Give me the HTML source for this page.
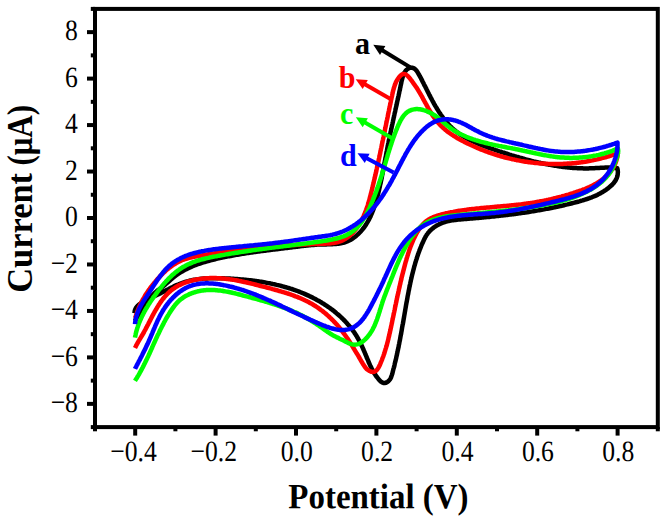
<!DOCTYPE html>
<html><head><meta charset="utf-8"><title>CV</title>
<style>html,body{margin:0;padding:0;background:#fff;}body{width:668px;height:523px;overflow:hidden;}svg{display:block;}text{font-family:"Liberation Serif",serif;}</style></head><body>
<svg width="668" height="523" viewBox="0 0 668 523">
<rect width="668" height="523" fill="#fff"/>
<g fill="none" stroke-width="4.5" stroke-linecap="butt" stroke-linejoin="round">
<path stroke="#000000" d="M135.0 321.0L135.5 319.9L136.1 318.8L136.7 317.8L137.3 316.8L138.0 315.8L138.6 314.8L139.3 313.8L140.0 312.8L140.7 311.9L141.4 310.9L142.1 309.9L142.9 309.0L143.6 308.0L144.2 307.0L144.9 306.0L145.6 305.0L146.2 304.0L146.9 302.9L147.5 301.9L148.2 300.9L148.9 299.9L149.6 298.9L150.3 297.9L151.0 297.0L151.7 296.1L152.5 295.2L153.3 294.3L154.1 293.5L155.0 292.7L155.9 291.9L156.8 291.1L157.7 290.4L158.7 289.7L159.7 288.9L160.6 288.2L161.6 287.5L162.6 286.7L163.5 286.0L164.5 285.2L165.4 284.4L166.3 283.6L167.2 282.8L168.1 282.0L169.0 281.2L170.0 280.4L170.9 279.6L171.8 278.8L172.7 278.0L173.7 277.2L174.6 276.5L175.6 275.7L176.5 275.0L177.5 274.4L178.5 273.7L179.5 273.0L180.5 272.4L181.5 271.8L182.6 271.2L183.6 270.6L184.6 270.0L185.7 269.5L186.8 268.9L187.8 268.4L188.9 267.9L190.0 267.4L191.1 266.9L192.2 266.4L193.3 266.0L194.4 265.5L195.5 265.1L196.6 264.7L197.7 264.2L198.9 263.8L200.0 263.5L201.2 263.1L202.3 262.7L203.4 262.3L204.6 262.0L205.8 261.7L206.9 261.3L208.1 261.0L209.3 260.7L210.4 260.4L211.6 260.1L212.8 259.8L213.9 259.5L215.1 259.2L216.3 258.9L217.5 258.6L218.7 258.4L219.8 258.1L221.0 257.9L222.2 257.6L223.4 257.4L224.6 257.1L225.8 256.9L226.9 256.6L228.1 256.4L229.3 256.2L230.5 256.0L231.7 255.7L232.9 255.5L234.1 255.3L235.2 255.1L236.4 254.9L237.6 254.7L238.8 254.5L240.0 254.3L241.2 254.1L242.4 253.9L243.5 253.7L244.7 253.5L245.9 253.3L247.1 253.1L248.3 253.0L249.5 252.8L250.7 252.6L251.9 252.4L253.1 252.3L254.2 252.1L255.4 251.9L256.6 251.8L257.8 251.6L259.0 251.4L260.2 251.3L261.4 251.1L262.6 251.0L263.8 250.8L265.0 250.7L266.2 250.5L267.3 250.3L268.5 250.2L269.7 250.0L270.9 249.9L272.1 249.7L273.3 249.6L274.5 249.5L275.7 249.3L276.9 249.2L278.1 249.0L279.2 248.9L280.4 248.7L281.6 248.6L282.8 248.4L284.0 248.3L285.2 248.1L286.4 248.0L287.6 247.9L288.8 247.7L290.0 247.6L291.1 247.4L292.3 247.3L293.5 247.1L294.7 247.0L295.9 246.8L297.1 246.7L298.3 246.5L299.5 246.4L300.7 246.2L301.8 246.1L303.0 245.9L304.2 245.8L305.4 245.7L306.6 245.5L307.8 245.4L309.0 245.3L310.2 245.2L311.4 245.1L312.6 245.0L313.8 244.9L315.1 244.8L316.3 244.7L317.5 244.6L318.7 244.6L319.9 244.5L321.2 244.5L322.4 244.4L323.7 244.4L324.9 244.4L326.1 244.4L327.4 244.3L328.6 244.3L329.9 244.3L331.1 244.2L332.3 244.2L333.5 244.1L334.8 244.0L336.0 243.9L337.2 243.8L338.4 243.7L339.6 243.5L340.8 243.3L341.9 243.0L343.1 242.8L344.2 242.5L345.4 242.1L346.5 241.7L347.6 241.3L348.7 240.8L349.7 240.3L350.8 239.7L351.8 239.1L352.8 238.4L353.8 237.7L354.8 237.0L355.8 236.2L356.7 235.4L357.6 234.6L358.5 233.8L359.3 232.9L360.2 232.1L361.0 231.2L361.7 230.3L362.5 229.4L363.2 228.5L364.0 227.5L364.7 226.6L365.3 225.6L366.0 224.6L366.6 223.6L367.2 222.6L367.8 221.6L368.4 220.5L369.0 219.5L369.5 218.4L370.0 217.4L370.6 216.3L371.0 215.2L371.5 214.1L372.0 213.0L372.4 211.9L372.9 210.8L373.3 209.7L373.7 208.5L374.1 207.4L374.5 206.2L374.9 205.1L375.3 203.9L375.6 202.8L376.0 201.6L376.3 200.4L376.6 199.3L377.0 198.1L377.3 196.9L377.6 195.7L377.9 194.5L378.2 193.4L378.5 192.2L378.8 191.0L379.1 189.8L379.3 188.6L379.6 187.4L379.9 186.2L380.1 185.0L380.4 183.9L380.7 182.7L380.9 181.5L381.2 180.3L381.4 179.1L381.7 177.9L381.9 176.7L382.1 175.5L382.4 174.3L382.6 173.1L382.8 172.0L383.1 170.8L383.3 169.6L383.5 168.4L383.8 167.2L384.0 166.0L384.2 164.8L384.4 163.6L384.6 162.5L384.9 161.3L385.1 160.1L385.3 158.9L385.5 157.7L385.8 156.6L386.0 155.4L386.2 154.2L386.4 153.0L386.6 151.9L386.9 150.7L387.1 149.5L387.3 148.3L387.5 147.2L387.8 146.0L388.0 144.8L388.2 143.7L388.5 142.5L388.7 141.4L388.9 140.2L389.2 139.0L389.4 137.9L389.6 136.7L389.9 135.6L390.1 134.4L390.4 133.3L390.6 132.1L390.9 131.0L391.1 129.8L391.4 128.6L391.6 127.5L391.9 126.3L392.1 125.2L392.4 124.0L392.6 122.9L392.9 121.7L393.1 120.5L393.4 119.4L393.6 118.2L393.9 117.1L394.1 115.9L394.4 114.7L394.6 113.5L394.9 112.4L395.2 111.2L395.4 110.0L395.7 108.8L395.9 107.7L396.2 106.5L396.5 105.3L396.7 104.1L397.0 102.9L397.2 101.7L397.5 100.5L397.8 99.3L398.0 98.1L398.3 96.9L398.6 95.7L398.8 94.5L399.1 93.3L399.3 92.0L399.6 90.8L399.9 89.6L400.1 88.3L400.4 87.1L400.6 85.8L400.9 84.6L401.2 83.3L401.4 82.1L401.7 80.8L402.0 79.6L402.3 78.4L402.6 77.2L403.0 76.0L403.4 74.9L403.9 73.8L404.3 72.8L404.9 71.9L405.5 71.0L406.2 70.2L406.9 69.5L407.8 68.9L408.7 68.3L409.6 67.9L410.6 67.7L411.6 67.7L412.6 67.8L413.6 68.2L414.6 68.8L415.5 69.5L416.3 70.4L417.1 71.5L417.8 72.6L418.5 73.8L419.2 75.0L419.8 76.2L420.5 77.4L421.1 78.5L421.6 79.6L422.2 80.7L422.7 81.8L423.3 82.8L423.8 83.9L424.3 84.9L424.8 85.9L425.4 86.9L425.9 87.9L426.4 89.0L426.9 90.0L427.4 91.0L427.9 92.1L428.5 93.1L429.0 94.2L429.5 95.2L430.1 96.3L430.6 97.3L431.2 98.4L431.8 99.5L432.3 100.5L432.9 101.6L433.5 102.7L434.1 103.8L434.7 104.8L435.3 105.9L435.9 106.9L436.6 108.0L437.2 109.0L437.9 110.1L438.5 111.1L439.2 112.2L439.9 113.2L440.5 114.2L441.2 115.2L441.9 116.2L442.7 117.2L443.4 118.2L444.1 119.2L444.9 120.1L445.6 121.1L446.4 122.0L447.2 122.9L448.0 123.8L448.8 124.7L449.6 125.6L450.5 126.4L451.3 127.3L452.2 128.1L453.1 128.9L454.0 129.7L454.9 130.4L455.8 131.2L456.7 131.9L457.7 132.6L458.6 133.3L459.6 134.0L460.6 134.7L461.6 135.3L462.6 135.9L463.6 136.6L464.6 137.2L465.6 137.8L466.7 138.3L467.7 138.9L468.8 139.4L469.8 140.0L470.9 140.5L472.0 141.0L473.1 141.5L474.2 142.0L475.3 142.5L476.4 143.0L477.5 143.5L478.6 143.9L479.7 144.4L480.8 144.8L482.0 145.3L483.1 145.7L484.2 146.1L485.4 146.5L486.5 146.9L487.7 147.4L488.8 147.8L490.0 148.2L491.1 148.6L492.3 148.9L493.4 149.3L494.6 149.7L495.7 150.1L496.9 150.5L498.0 150.9L499.2 151.3L500.3 151.6L501.5 152.0L502.6 152.4L503.8 152.7L504.9 153.1L506.0 153.5L507.2 153.8L508.3 154.2L509.5 154.6L510.6 154.9L511.8 155.3L512.9 155.6L514.1 156.0L515.2 156.3L516.4 156.7L517.5 157.0L518.7 157.3L519.8 157.7L521.0 158.0L522.2 158.3L523.3 158.6L524.5 159.0L525.6 159.3L526.8 159.6L527.9 159.9L529.1 160.2L530.3 160.5L531.4 160.8L532.6 161.1L533.7 161.4L534.9 161.6L536.1 161.9L537.2 162.2L538.4 162.5L539.6 162.7L540.7 163.0L541.9 163.2L543.1 163.5L544.3 163.7L545.4 164.0L546.6 164.2L547.8 164.4L549.0 164.7L550.2 164.9L551.3 165.1L552.5 165.3L553.7 165.5L554.9 165.7L556.1 165.9L557.3 166.1L558.4 166.3L559.6 166.4L560.8 166.6L562.0 166.8L563.2 166.9L564.4 167.1L565.6 167.2L566.8 167.3L568.0 167.4L569.2 167.6L570.4 167.7L571.6 167.8L572.8 167.9L574.0 168.0L575.2 168.0L576.4 168.1L577.6 168.2L578.8 168.2L580.0 168.3L581.2 168.3L582.4 168.3L583.6 168.4L584.8 168.4L586.0 168.4L587.2 168.4L588.4 168.4L589.6 168.3L590.8 168.3L592.0 168.3L593.2 168.2L594.4 168.2L595.7 168.1L596.9 168.0L598.1 168.0L599.3 167.9L600.5 167.8L601.7 167.8L602.9 167.7L604.1 167.7L605.3 167.6L606.5 167.6L607.7 167.6L608.9 167.6L610.1 167.6L611.3 167.6L612.5 167.7L613.7 167.8L614.9 167.9L616.1 168.0L617.3 168.2L617.6 169.5L617.8 170.8L617.9 172.1L617.8 173.3L617.7 174.5L617.5 175.6L617.2 176.8L616.8 177.9L616.3 178.9L615.8 180.0L615.2 181.0L614.5 181.9L613.8 182.9L613.0 183.8L612.2 184.7L611.3 185.5L610.4 186.3L609.5 187.1L608.5 187.9L607.6 188.7L606.6 189.4L605.6 190.1L604.6 190.7L603.6 191.4L602.6 192.0L601.6 192.6L600.5 193.2L599.5 193.8L598.4 194.3L597.3 194.9L596.3 195.4L595.2 195.9L594.1 196.3L593.0 196.8L591.9 197.3L590.7 197.7L589.6 198.1L588.5 198.5L587.3 198.9L586.2 199.3L585.0 199.6L583.9 200.0L582.7 200.4L581.6 200.7L580.4 201.0L579.3 201.4L578.1 201.7L576.9 202.0L575.7 202.3L574.6 202.6L573.4 202.9L572.2 203.2L571.1 203.5L569.9 203.8L568.7 204.1L567.5 204.4L566.4 204.6L565.2 204.9L564.0 205.2L562.8 205.5L561.7 205.7L560.5 206.0L559.3 206.2L558.1 206.5L557.0 206.8L555.8 207.0L554.6 207.3L553.4 207.5L552.3 207.7L551.1 208.0L549.9 208.2L548.7 208.5L547.6 208.7L546.4 208.9L545.2 209.1L544.0 209.4L542.8 209.6L541.7 209.8L540.5 210.0L539.3 210.2L538.1 210.4L536.9 210.6L535.8 210.8L534.6 211.0L533.4 211.2L532.2 211.4L531.0 211.6L529.8 211.8L528.7 212.0L527.5 212.2L526.3 212.4L525.1 212.5L523.9 212.7L522.7 212.9L521.5 213.1L520.4 213.2L519.2 213.4L518.0 213.6L516.8 213.7L515.6 213.9L514.4 214.0L513.2 214.2L512.0 214.3L510.8 214.5L509.6 214.6L508.5 214.8L507.3 214.9L506.1 215.1L504.9 215.2L503.7 215.3L502.5 215.5L501.3 215.6L500.1 215.7L498.9 215.9L497.7 216.0L496.5 216.1L495.3 216.3L494.1 216.4L492.9 216.5L491.7 216.6L490.5 216.8L489.3 216.9L488.1 217.0L486.9 217.1L485.7 217.2L484.5 217.3L483.3 217.4L482.1 217.6L480.9 217.7L479.7 217.8L478.5 217.9L477.3 218.0L476.1 218.1L474.9 218.2L473.7 218.3L472.5 218.4L471.3 218.5L470.1 218.6L468.9 218.7L467.7 218.8L466.5 218.9L465.3 219.0L464.1 219.1L462.9 219.2L461.7 219.3L460.5 219.4L459.3 219.5L458.1 219.6L456.9 219.8L455.7 219.9L454.5 220.0L453.3 220.2L452.1 220.4L450.9 220.6L449.7 220.8L448.6 221.1L447.4 221.3L446.2 221.6L445.1 222.0L443.9 222.3L442.8 222.7L441.7 223.2L440.6 223.6L439.5 224.1L438.4 224.7L437.3 225.2L436.3 225.8L435.3 226.5L434.3 227.1L433.3 227.9L432.4 228.6L431.5 229.4L430.6 230.2L429.7 231.0L429.0 231.9L428.2 232.8L427.5 233.8L426.8 234.7L426.2 235.7L425.5 236.8L425.0 237.8L424.4 238.9L423.9 240.0L423.4 241.1L422.9 242.2L422.4 243.3L421.9 244.4L421.4 245.5L421.0 246.6L420.5 247.8L420.1 248.9L419.6 250.0L419.2 251.2L418.8 252.3L418.4 253.4L418.0 254.6L417.6 255.7L417.2 256.9L416.9 258.0L416.5 259.2L416.1 260.3L415.8 261.5L415.4 262.6L415.1 263.8L414.8 265.0L414.4 266.1L414.1 267.3L413.8 268.5L413.5 269.6L413.2 270.8L412.9 272.0L412.6 273.1L412.3 274.3L412.0 275.5L411.7 276.7L411.5 277.8L411.2 279.0L410.9 280.2L410.7 281.4L410.4 282.5L410.2 283.7L409.9 284.9L409.7 286.1L409.4 287.3L409.2 288.4L409.0 289.6L408.7 290.8L408.5 292.0L408.3 293.2L408.1 294.3L407.8 295.5L407.6 296.7L407.4 297.9L407.2 299.1L407.0 300.2L406.8 301.4L406.5 302.6L406.3 303.8L406.1 304.9L405.9 306.1L405.7 307.3L405.5 308.5L405.3 309.6L405.1 310.8L404.9 312.0L404.7 313.2L404.5 314.3L404.3 315.5L404.1 316.7L403.9 317.9L403.7 319.0L403.5 320.2L403.3 321.4L403.1 322.5L402.9 323.7L402.6 324.9L402.4 326.1L402.2 327.2L402.0 328.4L401.8 329.6L401.6 330.8L401.4 331.9L401.2 333.1L401.0 334.3L400.7 335.5L400.5 336.6L400.3 337.8L400.1 339.0L399.9 340.2L399.6 341.3L399.4 342.5L399.2 343.7L398.9 344.9L398.7 346.1L398.5 347.3L398.2 348.4L398.0 349.6L397.7 350.8L397.5 352.0L397.2 353.2L397.0 354.4L396.7 355.6L396.4 356.8L396.2 358.0L395.9 359.2L395.6 360.4L395.3 361.6L395.0 362.8L394.7 364.0L394.5 365.2L394.2 366.4L393.9 367.6L393.5 368.8L393.2 370.0L392.9 371.2L392.6 372.5L392.3 373.7L391.9 374.9L391.5 376.0L391.1 377.2L390.6 378.3L390.0 379.3L389.3 380.2L388.5 381.1L387.6 381.8L386.7 382.4L385.7 382.8L384.7 383.0L383.7 383.0L382.8 382.7L381.8 382.2L380.9 381.6L380.1 380.8L379.2 379.9L378.4 379.0L377.7 378.0L376.9 377.1L376.2 376.1L375.5 375.1L374.9 374.1L374.2 373.1L373.6 372.0L373.0 371.0L372.4 369.9L371.8 368.8L371.3 367.7L370.8 366.6L370.2 365.5L369.7 364.4L369.2 363.3L368.7 362.2L368.3 361.0L367.8 359.9L367.3 358.8L366.8 357.7L366.4 356.5L365.9 355.4L365.4 354.3L365.0 353.1L364.5 352.0L364.0 350.9L363.5 349.8L363.1 348.7L362.6 347.6L362.1 346.5L361.5 345.4L361.0 344.3L360.5 343.2L360.0 342.2L359.4 341.1L358.8 340.1L358.3 339.0L357.7 338.0L357.1 337.0L356.5 335.9L355.8 334.9L355.2 333.9L354.5 332.9L353.9 331.9L353.2 331.0L352.5 330.0L351.7 329.0L351.0 328.1L350.3 327.1L349.5 326.2L348.7 325.3L347.9 324.4L347.1 323.5L346.3 322.6L345.5 321.7L344.7 320.8L343.8 320.0L343.0 319.1L342.1 318.3L341.3 317.4L340.4 316.6L339.5 315.8L338.6 315.0L337.7 314.2L336.7 313.4L335.8 312.6L334.9 311.9L333.9 311.1L333.0 310.4L332.0 309.6L331.0 308.9L330.1 308.2L329.1 307.5L328.1 306.8L327.1 306.1L326.1 305.5L325.1 304.8L324.1 304.1L323.1 303.5L322.0 302.9L321.0 302.2L320.0 301.6L319.0 301.0L317.9 300.4L316.9 299.9L315.8 299.3L314.8 298.7L313.7 298.2L312.7 297.6L311.6 297.1L310.5 296.6L309.4 296.1L308.4 295.6L307.3 295.1L306.2 294.6L305.1 294.1L304.0 293.6L302.9 293.2L301.8 292.7L300.7 292.3L299.6 291.8L298.5 291.4L297.4 291.0L296.3 290.6L295.1 290.2L294.0 289.8L292.9 289.4L291.7 289.0L290.6 288.7L289.5 288.3L288.3 288.0L287.2 287.6L286.0 287.3L284.9 287.0L283.7 286.6L282.6 286.3L281.4 286.0L280.3 285.7L279.1 285.4L277.9 285.1L276.8 284.9L275.6 284.6L274.4 284.3L273.2 284.1L272.1 283.8L270.9 283.6L269.7 283.3L268.5 283.1L267.3 282.9L266.1 282.7L265.0 282.4L263.8 282.2L262.6 282.0L261.4 281.8L260.2 281.7L259.0 281.5L257.8 281.3L256.6 281.1L255.4 281.0L254.2 280.8L253.0 280.6L251.8 280.5L250.6 280.3L249.4 280.2L248.2 280.1L247.0 279.9L245.7 279.8L244.5 279.7L243.3 279.6L242.1 279.5L240.9 279.4L239.7 279.3L238.5 279.2L237.3 279.1L236.1 279.0L234.8 278.9L233.6 278.8L232.4 278.8L231.2 278.7L230.0 278.6L228.8 278.6L227.6 278.5L226.4 278.4L225.1 278.4L223.9 278.3L222.7 278.3L221.5 278.3L220.3 278.2L219.1 278.2L217.9 278.2L216.7 278.2L215.5 278.2L214.3 278.2L213.1 278.2L211.9 278.2L210.7 278.2L209.5 278.3L208.3 278.3L207.1 278.4L205.9 278.4L204.7 278.5L203.5 278.6L202.3 278.7L201.2 278.8L200.0 279.0L198.8 279.1L197.6 279.3L196.5 279.4L195.3 279.6L194.1 279.8L193.0 280.0L191.8 280.3L190.7 280.5L189.5 280.8L188.4 281.1L187.2 281.4L186.1 281.7L184.9 282.0L183.8 282.4L182.7 282.8L181.6 283.2L180.4 283.6L179.3 284.0L178.2 284.5L177.1 284.9L176.0 285.4L174.9 285.9L173.8 286.4L172.7 287.0L171.6 287.5L170.5 288.1L169.4 288.6L168.4 289.2L167.3 289.7L166.2 290.3L165.1 290.9L164.0 291.4L162.9 292.0L161.9 292.5L160.8 293.1L159.7 293.6L158.6 294.2L157.5 294.7L156.4 295.2L155.4 295.7L154.3 296.2L153.2 296.7L152.1 297.2L151.0 297.7L150.0 298.2L148.9 298.7L147.8 299.3L146.8 299.8L145.7 300.3L144.7 300.9L143.7 301.5L142.7 302.1L141.7 302.7L140.7 303.4L139.7 304.1L138.8 304.8L137.9 305.6L137.1 306.5L136.4 307.4L135.7 308.4L135.2 309.4L134.8 310.6L134.6 311.8L134.5 313.2"/>
<path stroke="#ff0000" d="M135.2 318.0L135.5 316.8L135.9 315.7L136.3 314.5L136.7 313.4L137.1 312.2L137.5 311.1L137.9 310.0L138.4 308.8L138.9 307.7L139.3 306.6L139.8 305.5L140.3 304.5L140.9 303.4L141.4 302.3L141.9 301.2L142.5 300.2L143.1 299.1L143.7 298.1L144.3 297.1L144.9 296.0L145.5 295.0L146.1 294.0L146.8 293.0L147.5 292.0L148.1 291.0L148.8 290.0L149.5 289.1L150.2 288.1L150.9 287.1L151.7 286.2L152.4 285.2L153.1 284.3L153.9 283.3L154.7 282.4L155.5 281.5L156.2 280.6L157.0 279.6L157.9 278.7L158.7 277.8L159.5 276.9L160.3 276.0L161.2 275.2L162.0 274.3L162.9 273.4L163.8 272.6L164.7 271.8L165.6 270.9L166.5 270.1L167.4 269.3L168.3 268.6L169.3 267.8L170.2 267.1L171.2 266.4L172.2 265.7L173.2 265.0L174.2 264.3L175.2 263.7L176.2 263.1L177.2 262.5L178.3 261.9L179.4 261.4L180.4 260.9L181.5 260.4L182.6 260.0L183.7 259.6L184.9 259.2L186.0 258.8L187.1 258.5L188.3 258.1L189.5 257.8L190.6 257.6L191.8 257.3L193.0 257.0L194.2 256.8L195.4 256.6L196.6 256.3L197.8 256.1L198.9 255.9L200.1 255.7L201.3 255.5L202.5 255.3L203.7 255.0L204.9 254.8L206.1 254.6L207.3 254.4L208.5 254.2L209.7 254.0L210.9 253.8L212.1 253.6L213.3 253.4L214.5 253.3L215.7 253.1L216.8 252.9L218.0 252.7L219.2 252.5L220.4 252.3L221.6 252.2L222.8 252.0L224.0 251.8L225.2 251.7L226.4 251.5L227.6 251.3L228.8 251.2L230.0 251.0L231.2 250.8L232.4 250.7L233.6 250.5L234.8 250.4L236.0 250.2L237.1 250.1L238.3 249.9L239.5 249.8L240.7 249.6L241.9 249.5L243.1 249.4L244.3 249.2L245.5 249.1L246.7 249.0L247.9 248.8L249.1 248.7L250.3 248.6L251.5 248.4L252.7 248.3L253.9 248.2L255.1 248.1L256.3 247.9L257.4 247.8L258.6 247.7L259.8 247.6L261.0 247.5L262.2 247.4L263.4 247.3L264.6 247.1L265.8 247.0L267.0 246.9L268.2 246.8L269.4 246.7L270.6 246.6L271.8 246.5L273.0 246.4L274.2 246.3L275.4 246.2L276.6 246.1L277.8 246.1L278.9 246.0L280.1 245.9L281.3 245.8L282.5 245.7L283.7 245.6L284.9 245.5L286.1 245.5L287.3 245.4L288.5 245.3L289.7 245.2L290.9 245.1L292.1 245.1L293.3 245.0L294.5 244.9L295.7 244.9L296.9 244.8L298.1 244.7L299.3 244.7L300.5 244.6L301.7 244.5L302.9 244.5L304.2 244.4L305.4 244.4L306.6 244.3L307.8 244.3L309.0 244.2L310.2 244.2L311.4 244.1L312.6 244.1L313.9 244.0L315.1 244.0L316.3 244.0L317.5 243.9L318.7 243.9L320.0 243.8L321.2 243.8L322.4 243.8L323.6 243.7L324.9 243.7L326.1 243.6L327.3 243.6L328.5 243.5L329.7 243.4L330.9 243.3L332.1 243.1L333.3 243.0L334.5 242.8L335.7 242.6L336.8 242.3L338.0 242.0L339.1 241.7L340.2 241.3L341.3 240.9L342.4 240.4L343.5 239.9L344.5 239.3L345.6 238.7L346.6 238.0L347.6 237.3L348.5 236.6L349.5 235.8L350.4 235.0L351.3 234.2L352.2 233.3L353.1 232.4L353.9 231.5L354.7 230.6L355.5 229.7L356.3 228.7L357.0 227.7L357.7 226.8L358.4 225.8L359.0 224.8L359.7 223.7L360.3 222.7L360.9 221.7L361.4 220.6L362.0 219.6L362.5 218.5L363.0 217.4L363.5 216.4L364.0 215.3L364.5 214.2L364.9 213.1L365.4 211.9L365.8 210.8L366.2 209.7L366.6 208.5L367.0 207.4L367.4 206.3L367.8 205.1L368.1 204.0L368.5 202.8L368.8 201.6L369.2 200.5L369.5 199.3L369.8 198.1L370.1 196.9L370.4 195.8L370.7 194.6L371.0 193.4L371.3 192.2L371.6 191.0L371.9 189.9L372.2 188.7L372.5 187.5L372.7 186.3L373.0 185.2L373.3 184.0L373.6 182.8L373.8 181.6L374.1 180.5L374.4 179.3L374.7 178.1L374.9 176.9L375.2 175.8L375.5 174.6L375.7 173.4L376.0 172.3L376.3 171.1L376.5 169.9L376.8 168.7L377.0 167.6L377.3 166.4L377.5 165.2L377.8 164.1L378.1 162.9L378.3 161.7L378.6 160.6L378.8 159.4L379.1 158.2L379.3 157.1L379.6 155.9L379.8 154.7L380.1 153.6L380.3 152.4L380.5 151.2L380.8 150.1L381.0 148.9L381.3 147.7L381.5 146.6L381.8 145.4L382.0 144.2L382.2 143.1L382.5 141.9L382.7 140.7L383.0 139.5L383.2 138.4L383.5 137.2L383.7 136.0L383.9 134.9L384.2 133.7L384.4 132.5L384.7 131.3L384.9 130.2L385.1 129.0L385.4 127.8L385.6 126.6L385.9 125.5L386.1 124.3L386.3 123.1L386.6 121.9L386.8 120.7L387.1 119.5L387.3 118.4L387.6 117.2L387.8 116.0L388.0 114.8L388.3 113.6L388.5 112.4L388.8 111.2L389.0 110.1L389.3 108.9L389.5 107.7L389.8 106.5L390.0 105.3L390.3 104.1L390.5 102.9L390.8 101.7L391.0 100.5L391.3 99.3L391.5 98.1L391.8 96.9L392.1 95.7L392.3 94.5L392.6 93.3L392.8 92.1L393.1 90.9L393.4 89.7L393.8 88.5L394.1 87.3L394.5 86.2L394.8 85.0L395.3 83.9L395.7 82.8L396.2 81.7L396.8 80.7L397.4 79.7L398.0 78.7L398.7 77.7L399.4 76.8L400.2 75.9L401.1 75.1L401.9 74.5L402.8 74.1L403.7 73.9L404.6 74.1L405.6 74.4L406.5 75.0L407.4 75.7L408.2 76.5L409.1 77.5L410.0 78.5L410.8 79.6L411.6 80.6L412.4 81.7L413.1 82.7L413.8 83.8L414.5 84.7L415.2 85.7L415.9 86.7L416.5 87.7L417.2 88.6L417.8 89.6L418.4 90.6L419.0 91.6L419.6 92.6L420.2 93.6L420.8 94.6L421.4 95.7L422.0 96.7L422.6 97.8L423.1 98.8L423.7 99.9L424.3 101.0L424.9 102.1L425.5 103.2L426.1 104.2L426.7 105.3L427.3 106.4L427.9 107.5L428.5 108.6L429.1 109.6L429.7 110.7L430.4 111.8L431.0 112.8L431.7 113.9L432.3 114.9L433.0 115.9L433.7 116.9L434.4 117.9L435.1 118.9L435.8 119.9L436.6 120.9L437.3 121.8L438.1 122.7L438.9 123.6L439.7 124.5L440.5 125.3L441.4 126.2L442.2 127.0L443.1 127.8L444.0 128.6L444.9 129.4L445.8 130.1L446.7 130.9L447.6 131.6L448.6 132.3L449.5 133.0L450.5 133.7L451.5 134.4L452.5 135.0L453.5 135.7L454.5 136.3L455.5 136.9L456.5 137.6L457.5 138.2L458.6 138.8L459.6 139.4L460.7 139.9L461.7 140.5L462.8 141.1L463.8 141.6L464.9 142.2L466.0 142.7L467.0 143.2L468.1 143.8L469.2 144.3L470.3 144.8L471.4 145.3L472.5 145.8L473.6 146.3L474.7 146.8L475.8 147.3L476.9 147.8L478.0 148.2L479.1 148.7L480.2 149.1L481.3 149.6L482.4 150.0L483.6 150.5L484.7 150.9L485.8 151.3L486.9 151.7L488.1 152.1L489.2 152.6L490.3 152.9L491.5 153.3L492.6 153.7L493.8 154.1L494.9 154.5L496.1 154.8L497.2 155.2L498.4 155.5L499.5 155.9L500.7 156.2L501.8 156.5L503.0 156.9L504.2 157.2L505.3 157.5L506.5 157.8L507.7 158.1L508.9 158.4L510.0 158.6L511.2 158.9L512.4 159.2L513.6 159.4L514.7 159.7L515.9 159.9L517.1 160.2L518.3 160.4L519.5 160.6L520.7 160.9L521.8 161.1L523.0 161.3L524.2 161.5L525.4 161.7L526.6 161.8L527.8 162.0L529.0 162.2L530.2 162.3L531.4 162.5L532.6 162.6L533.8 162.8L535.0 162.9L536.2 163.0L537.4 163.1L538.6 163.3L539.8 163.4L541.0 163.4L542.2 163.5L543.4 163.6L544.6 163.7L545.8 163.8L547.0 163.8L548.2 163.9L549.4 163.9L550.6 163.9L551.8 164.0L553.0 164.0L554.2 164.0L555.4 164.0L556.6 164.0L557.8 164.0L559.0 164.0L560.3 164.0L561.5 163.9L562.7 163.9L563.9 163.8L565.1 163.8L566.3 163.7L567.5 163.6L568.7 163.6L569.9 163.5L571.1 163.4L572.3 163.3L573.5 163.2L574.7 163.1L575.8 162.9L577.0 162.8L578.2 162.7L579.4 162.5L580.6 162.4L581.8 162.2L583.0 162.0L584.2 161.9L585.4 161.7L586.6 161.5L587.7 161.3L588.9 161.1L590.1 160.8L591.3 160.6L592.5 160.4L593.6 160.1L594.8 159.9L596.0 159.6L597.2 159.4L598.3 159.1L599.5 158.8L600.7 158.5L601.8 158.2L603.0 157.9L604.2 157.6L605.3 157.3L606.5 157.0L607.6 156.6L608.8 156.3L609.9 155.9L611.1 155.5L612.2 155.2L613.4 154.8L614.5 154.4L615.6 154.0L616.8 153.6L617.9 153.2L617.7 154.5L617.5 155.8L617.3 157.1L617.0 158.3L616.6 159.6L616.3 160.7L615.9 161.9L615.5 163.0L615.0 164.1L614.5 165.2L614.0 166.3L613.4 167.3L612.8 168.3L612.2 169.3L611.5 170.2L610.9 171.1L610.2 172.1L609.4 172.9L608.7 173.8L607.9 174.6L607.1 175.5L606.2 176.2L605.4 177.0L604.5 177.8L603.6 178.5L602.7 179.2L601.8 179.9L600.8 180.6L599.8 181.3L598.8 181.9L597.8 182.5L596.8 183.2L595.8 183.8L594.7 184.3L593.6 184.9L592.6 185.5L591.5 186.0L590.4 186.5L589.3 187.0L588.1 187.5L587.0 188.0L585.9 188.5L584.7 189.0L583.6 189.4L582.4 189.9L581.3 190.3L580.1 190.7L578.9 191.1L577.8 191.5L576.6 191.9L575.4 192.3L574.2 192.7L573.1 193.1L571.9 193.5L570.7 193.8L569.6 194.2L568.4 194.6L567.2 194.9L566.0 195.2L564.9 195.6L563.7 195.9L562.5 196.2L561.4 196.6L560.2 196.9L559.0 197.2L557.9 197.5L556.7 197.8L555.5 198.1L554.4 198.3L553.2 198.6L552.1 198.9L550.9 199.2L549.7 199.4L548.6 199.7L547.4 199.9L546.2 200.2L545.1 200.4L543.9 200.7L542.7 200.9L541.6 201.1L540.4 201.3L539.2 201.6L538.0 201.8L536.9 202.0L535.7 202.2L534.5 202.4L533.4 202.6L532.2 202.8L531.0 202.9L529.8 203.1L528.7 203.3L527.5 203.5L526.3 203.6L525.1 203.8L523.9 204.0L522.8 204.1L521.6 204.3L520.4 204.4L519.2 204.6L518.0 204.7L516.8 204.8L515.6 205.0L514.4 205.1L513.2 205.2L512.0 205.3L510.9 205.5L509.7 205.6L508.5 205.7L507.3 205.8L506.1 205.9L504.9 206.0L503.7 206.1L502.4 206.2L501.2 206.3L500.0 206.4L498.8 206.5L497.6 206.6L496.4 206.7L495.2 206.8L494.0 206.9L492.8 207.1L491.6 207.2L490.4 207.3L489.2 207.4L488.0 207.5L486.8 207.6L485.6 207.7L484.4 207.8L483.1 207.9L481.9 208.0L480.7 208.1L479.5 208.3L478.3 208.4L477.1 208.5L475.9 208.6L474.7 208.8L473.5 208.9L472.3 209.0L471.1 209.2L469.9 209.3L468.7 209.5L467.5 209.6L466.3 209.8L465.1 209.9L463.9 210.1L462.7 210.3L461.5 210.4L460.3 210.6L459.1 210.8L457.9 211.0L456.7 211.2L455.5 211.4L454.4 211.6L453.2 211.9L452.0 212.1L450.8 212.3L449.6 212.6L448.4 212.8L447.3 213.1L446.1 213.3L444.9 213.6L443.7 213.9L442.6 214.2L441.4 214.5L440.3 214.8L439.1 215.1L438.0 215.5L436.8 215.9L435.7 216.3L434.6 216.7L433.5 217.1L432.5 217.6L431.4 218.1L430.4 218.6L429.3 219.2L428.3 219.8L427.4 220.4L426.4 221.1L425.5 221.8L424.6 222.6L423.7 223.4L422.9 224.3L422.1 225.2L421.3 226.1L420.5 227.1L419.8 228.1L419.1 229.2L418.4 230.2L417.8 231.3L417.1 232.4L416.5 233.5L415.9 234.6L415.3 235.7L414.8 236.8L414.3 237.9L413.7 239.0L413.2 240.1L412.7 241.3L412.3 242.4L411.8 243.5L411.4 244.6L410.9 245.7L410.5 246.8L410.1 247.9L409.7 249.1L409.3 250.2L408.9 251.3L408.6 252.4L408.2 253.6L407.9 254.7L407.5 255.8L407.2 256.9L406.8 258.1L406.5 259.2L406.2 260.4L405.8 261.5L405.5 262.6L405.2 263.8L404.9 264.9L404.6 266.1L404.3 267.2L404.0 268.4L403.7 269.6L403.4 270.7L403.1 271.9L402.8 273.1L402.5 274.2L402.2 275.4L401.9 276.6L401.6 277.7L401.4 278.9L401.1 280.1L400.8 281.3L400.5 282.4L400.3 283.6L400.0 284.8L399.7 286.0L399.5 287.2L399.2 288.3L398.9 289.5L398.7 290.7L398.4 291.9L398.2 293.1L397.9 294.3L397.6 295.4L397.4 296.6L397.1 297.8L396.9 299.0L396.6 300.2L396.4 301.4L396.1 302.6L395.9 303.7L395.6 304.9L395.4 306.1L395.1 307.3L394.9 308.5L394.7 309.7L394.4 310.9L394.2 312.0L393.9 313.2L393.7 314.4L393.4 315.6L393.2 316.8L392.9 317.9L392.7 319.1L392.4 320.3L392.2 321.5L392.0 322.6L391.7 323.8L391.5 325.0L391.2 326.1L391.0 327.3L390.7 328.5L390.5 329.6L390.2 330.8L390.0 331.9L389.7 333.1L389.4 334.3L389.2 335.4L388.9 336.6L388.6 337.7L388.4 338.9L388.1 340.0L387.8 341.2L387.5 342.3L387.2 343.5L386.9 344.7L386.6 345.8L386.2 347.0L385.9 348.1L385.5 349.3L385.2 350.5L384.8 351.6L384.5 352.8L384.1 354.0L383.7 355.1L383.3 356.3L382.8 357.5L382.4 358.6L382.0 359.8L381.5 361.0L381.0 362.2L380.5 363.4L380.0 364.6L379.5 365.7L378.9 366.8L378.3 367.9L377.7 368.8L377.0 369.7L376.3 370.5L375.5 371.1L374.7 371.5L373.8 371.8L372.8 371.9L371.7 371.8L370.7 371.5L369.6 371.0L368.6 370.4L367.6 369.7L366.6 368.9L365.8 368.0L365.0 367.0L364.2 365.9L363.5 364.8L362.8 363.7L362.1 362.5L361.4 361.4L360.8 360.2L360.1 359.1L359.5 358.0L358.9 357.0L358.3 355.9L357.7 354.9L357.0 353.8L356.4 352.8L355.8 351.8L355.2 350.8L354.6 349.8L354.0 348.8L353.4 347.9L352.8 346.9L352.2 345.9L351.6 344.9L350.9 343.9L350.3 342.9L349.7 341.9L349.0 340.9L348.4 339.9L347.7 339.0L347.1 338.0L346.4 337.0L345.7 336.0L345.0 335.0L344.3 334.0L343.6 333.1L342.9 332.1L342.2 331.1L341.5 330.2L340.7 329.2L340.0 328.3L339.2 327.3L338.4 326.4L337.6 325.5L336.8 324.6L336.0 323.7L335.2 322.8L334.3 321.9L333.5 321.0L332.6 320.1L331.8 319.3L330.9 318.4L330.0 317.6L329.1 316.7L328.2 315.9L327.3 315.1L326.4 314.3L325.5 313.5L324.6 312.8L323.6 312.0L322.7 311.2L321.7 310.5L320.7 309.8L319.8 309.1L318.8 308.4L317.8 307.7L316.8 307.0L315.8 306.3L314.8 305.7L313.7 305.1L312.7 304.4L311.7 303.8L310.6 303.3L309.6 302.7L308.5 302.1L307.5 301.6L306.4 301.0L305.3 300.5L304.3 300.0L303.2 299.5L302.1 299.0L301.0 298.5L299.9 298.0L298.8 297.6L297.7 297.1L296.6 296.7L295.5 296.3L294.3 295.8L293.2 295.4L292.1 295.0L291.0 294.6L289.8 294.2L288.7 293.8L287.5 293.5L286.4 293.1L285.3 292.7L284.1 292.4L283.0 292.0L281.8 291.7L280.6 291.3L279.5 291.0L278.3 290.7L277.2 290.3L276.0 290.0L274.8 289.7L273.7 289.4L272.5 289.1L271.3 288.7L270.2 288.4L269.0 288.1L267.8 287.8L266.6 287.5L265.5 287.2L264.3 286.9L263.1 286.6L262.0 286.3L260.8 286.0L259.6 285.7L258.4 285.4L257.3 285.1L256.1 284.8L254.9 284.5L253.8 284.2L252.6 283.9L251.4 283.6L250.2 283.3L249.1 283.1L247.9 282.8L246.7 282.5L245.6 282.2L244.4 282.0L243.2 281.7L242.0 281.5L240.9 281.2L239.7 281.0L238.5 280.8L237.3 280.5L236.1 280.3L235.0 280.1L233.8 279.9L232.6 279.7L231.4 279.5L230.2 279.4L229.1 279.2L227.9 279.0L226.7 278.9L225.5 278.8L224.3 278.6L223.1 278.5L221.9 278.4L220.7 278.3L219.5 278.3L218.3 278.2L217.1 278.2L215.9 278.1L214.7 278.1L213.5 278.1L212.3 278.1L211.1 278.1L209.9 278.1L208.6 278.2L207.4 278.2L206.2 278.3L205.0 278.4L203.8 278.5L202.5 278.6L201.3 278.8L200.1 278.9L198.9 279.1L197.7 279.3L196.5 279.5L195.3 279.8L194.1 280.0L192.9 280.3L191.8 280.6L190.6 280.9L189.4 281.2L188.3 281.5L187.1 281.9L186.0 282.3L184.9 282.7L183.8 283.1L182.6 283.6L181.6 284.1L180.5 284.6L179.4 285.1L178.4 285.6L177.3 286.2L176.3 286.8L175.3 287.4L174.4 288.1L173.4 288.7L172.4 289.4L171.5 290.1L170.6 290.9L169.7 291.6L168.9 292.4L168.0 293.2L167.2 294.1L166.4 294.9L165.6 295.8L164.8 296.7L164.0 297.6L163.3 298.6L162.5 299.5L161.8 300.5L161.1 301.5L160.4 302.4L159.7 303.5L159.0 304.5L158.4 305.5L157.7 306.6L157.1 307.6L156.5 308.7L155.8 309.8L155.2 310.8L154.6 311.9L154.0 313.0L153.4 314.1L152.8 315.2L152.2 316.3L151.7 317.4L151.1 318.5L150.5 319.6L150.0 320.7L149.4 321.8L148.8 322.9L148.3 324.0L147.7 325.1L147.1 326.2L146.6 327.2L146.0 328.3L145.5 329.4L144.9 330.4L144.3 331.4L143.8 332.5L143.2 333.5L142.6 334.5L142.0 335.5L141.4 336.5L140.9 337.4L140.3 338.4L139.7 339.4L139.1 340.4L138.5 341.4L137.9 342.5L137.3 343.5L136.7 344.6L136.1 345.7L135.6 346.8L135.0 348.0"/>
<path stroke="#00ff00" d="M135.0 337.6L135.2 336.4L135.5 335.2L135.7 334.0L136.0 332.8L136.3 331.6L136.6 330.4L137.0 329.3L137.3 328.1L137.7 327.0L138.1 325.8L138.5 324.7L138.9 323.6L139.3 322.5L139.8 321.4L140.2 320.3L140.7 319.2L141.2 318.1L141.7 317.0L142.2 315.9L142.7 314.9L143.3 313.8L143.8 312.8L144.4 311.7L145.0 310.7L145.5 309.6L146.1 308.6L146.8 307.6L147.4 306.6L148.0 305.5L148.6 304.5L149.3 303.5L149.9 302.5L150.6 301.5L151.3 300.5L152.0 299.5L152.7 298.5L153.3 297.5L154.1 296.5L154.8 295.5L155.5 294.6L156.2 293.6L156.9 292.6L157.7 291.6L158.4 290.7L159.2 289.7L159.9 288.7L160.7 287.8L161.5 286.8L162.2 285.9L163.0 284.9L163.8 284.0L164.6 283.1L165.4 282.2L166.2 281.2L167.1 280.4L167.9 279.5L168.7 278.6L169.6 277.7L170.5 276.9L171.3 276.1L172.2 275.2L173.1 274.4L174.0 273.7L174.9 272.9L175.8 272.1L176.8 271.4L177.7 270.7L178.7 270.0L179.6 269.3L180.6 268.6L181.6 268.0L182.6 267.3L183.6 266.7L184.7 266.2L185.7 265.6L186.7 265.1L187.8 264.5L188.9 264.0L189.9 263.6L191.0 263.1L192.1 262.6L193.2 262.2L194.4 261.8L195.5 261.4L196.6 261.0L197.7 260.6L198.9 260.3L200.0 259.9L201.2 259.6L202.4 259.3L203.5 259.0L204.7 258.7L205.9 258.4L207.1 258.1L208.3 257.9L209.4 257.6L210.6 257.3L211.8 257.1L213.0 256.8L214.2 256.6L215.4 256.4L216.6 256.2L217.8 255.9L219.0 255.7L220.2 255.5L221.4 255.3L222.6 255.1L223.8 254.9L225.0 254.6L226.2 254.4L227.4 254.2L228.6 254.0L229.8 253.8L231.0 253.6L232.2 253.4L233.4 253.2L234.6 253.0L235.8 252.8L237.0 252.7L238.2 252.5L239.4 252.3L240.6 252.1L241.8 251.9L243.0 251.7L244.2 251.5L245.4 251.4L246.6 251.2L247.8 251.0L248.9 250.8L250.1 250.7L251.3 250.5L252.5 250.3L253.7 250.1L254.9 250.0L256.1 249.8L257.3 249.6L258.4 249.5L259.6 249.3L260.8 249.2L262.0 249.0L263.2 248.8L264.4 248.7L265.5 248.5L266.7 248.4L267.9 248.2L269.1 248.1L270.3 247.9L271.4 247.7L272.6 247.6L273.8 247.4L275.0 247.3L276.2 247.1L277.3 247.0L278.5 246.9L279.7 246.7L280.9 246.6L282.0 246.4L283.2 246.3L284.4 246.1L285.6 246.0L286.7 245.8L287.9 245.7L289.1 245.5L290.3 245.4L291.5 245.2L292.7 245.1L293.8 244.9L295.0 244.8L296.2 244.6L297.4 244.5L298.6 244.3L299.8 244.2L301.0 244.0L302.2 243.9L303.4 243.7L304.6 243.6L305.8 243.4L307.0 243.3L308.2 243.1L309.4 242.9L310.6 242.8L311.9 242.6L313.1 242.5L314.3 242.3L315.5 242.1L316.8 242.0L318.0 241.8L319.2 241.6L320.5 241.4L321.7 241.3L323.0 241.1L324.2 240.9L325.5 240.7L326.7 240.5L328.0 240.3L329.2 240.1L330.4 239.8L331.7 239.6L332.9 239.3L334.1 239.1L335.3 238.8L336.5 238.5L337.7 238.2L338.9 237.9L340.1 237.5L341.2 237.1L342.3 236.7L343.5 236.3L344.6 235.9L345.7 235.4L346.7 234.9L347.8 234.4L348.8 233.8L349.8 233.3L350.8 232.6L351.7 232.0L352.6 231.3L353.6 230.6L354.4 229.9L355.3 229.1L356.1 228.3L357.0 227.5L357.8 226.7L358.5 225.8L359.3 224.9L360.0 224.0L360.8 223.1L361.5 222.2L362.2 221.2L362.8 220.2L363.5 219.2L364.1 218.2L364.8 217.2L365.4 216.1L366.0 215.1L366.5 214.0L367.1 212.9L367.7 211.8L368.2 210.7L368.7 209.6L369.3 208.5L369.8 207.4L370.3 206.2L370.8 205.1L371.3 204.0L371.7 202.8L372.2 201.7L372.7 200.5L373.1 199.4L373.6 198.3L374.0 197.1L374.5 196.0L374.9 194.9L375.3 193.7L375.8 192.6L376.2 191.5L376.6 190.3L377.0 189.2L377.4 188.1L377.8 186.9L378.2 185.8L378.6 184.7L379.0 183.5L379.3 182.4L379.7 181.3L380.1 180.1L380.5 179.0L380.8 177.9L381.2 176.8L381.6 175.6L381.9 174.5L382.3 173.4L382.6 172.2L383.0 171.1L383.3 170.0L383.7 168.8L384.0 167.7L384.3 166.6L384.7 165.4L385.0 164.3L385.4 163.1L385.7 162.0L386.0 160.9L386.4 159.7L386.7 158.6L387.1 157.4L387.4 156.3L387.7 155.1L388.1 154.0L388.4 152.8L388.8 151.7L389.1 150.6L389.5 149.4L389.9 148.3L390.2 147.1L390.6 146.0L391.0 144.8L391.4 143.7L391.7 142.5L392.1 141.4L392.5 140.2L392.9 139.1L393.3 137.9L393.7 136.8L394.2 135.6L394.6 134.4L395.0 133.3L395.5 132.1L395.9 131.0L396.4 129.8L396.9 128.7L397.3 127.5L397.8 126.4L398.3 125.2L398.8 124.1L399.4 122.9L399.9 121.8L400.5 120.7L401.1 119.7L401.7 118.6L402.3 117.6L403.0 116.6L403.7 115.7L404.4 114.8L405.2 114.0L406.0 113.2L406.8 112.5L407.7 111.8L408.6 111.3L409.6 110.7L410.6 110.3L411.6 109.9L412.7 109.6L413.9 109.4L415.0 109.2L416.2 109.1L417.4 109.1L418.6 109.2L419.8 109.3L421.0 109.5L422.2 109.7L423.4 110.1L424.7 110.4L425.9 110.8L427.0 111.3L428.2 111.8L429.4 112.3L430.5 112.9L431.6 113.5L432.7 114.1L433.8 114.8L434.8 115.4L435.8 116.1L436.8 116.9L437.8 117.6L438.7 118.3L439.7 119.1L440.6 119.9L441.5 120.6L442.4 121.4L443.3 122.2L444.2 122.9L445.1 123.7L446.0 124.5L446.9 125.2L447.8 126.0L448.7 126.7L449.7 127.4L450.6 128.1L451.6 128.8L452.5 129.5L453.5 130.2L454.5 130.8L455.6 131.4L456.6 132.0L457.6 132.6L458.7 133.2L459.7 133.7L460.8 134.3L461.9 134.8L463.0 135.3L464.1 135.8L465.2 136.3L466.3 136.8L467.4 137.2L468.5 137.7L469.7 138.1L470.8 138.5L472.0 138.9L473.1 139.3L474.3 139.7L475.4 140.1L476.6 140.4L477.7 140.8L478.9 141.1L480.1 141.5L481.2 141.8L482.4 142.1L483.6 142.4L484.8 142.7L485.9 143.0L487.1 143.3L488.3 143.6L489.4 143.9L490.6 144.1L491.8 144.4L493.0 144.7L494.1 144.9L495.3 145.2L496.5 145.4L497.7 145.6L498.9 145.9L500.0 146.1L501.2 146.3L502.4 146.6L503.6 146.8L504.8 147.0L505.9 147.2L507.1 147.5L508.3 147.7L509.5 147.9L510.6 148.1L511.8 148.3L513.0 148.6L514.2 148.8L515.4 149.0L516.5 149.3L517.7 149.5L518.9 149.7L520.1 150.0L521.2 150.2L522.4 150.5L523.6 150.7L524.8 151.0L525.9 151.2L527.1 151.5L528.3 151.7L529.4 152.0L530.6 152.3L531.8 152.5L533.0 152.8L534.1 153.0L535.3 153.3L536.5 153.6L537.7 153.8L538.8 154.0L540.0 154.3L541.2 154.5L542.4 154.8L543.5 155.0L544.7 155.2L545.9 155.4L547.1 155.6L548.3 155.8L549.5 156.0L550.6 156.2L551.8 156.4L553.0 156.6L554.2 156.7L555.4 156.9L556.6 157.0L557.8 157.2L559.0 157.3L560.2 157.4L561.4 157.5L562.6 157.6L563.8 157.6L565.0 157.7L566.2 157.8L567.4 157.8L568.7 157.8L569.9 157.9L571.1 157.9L572.3 157.9L573.5 157.8L574.7 157.8L575.9 157.8L577.1 157.7L578.3 157.7L579.5 157.6L580.7 157.5L582.0 157.4L583.2 157.3L584.4 157.2L585.6 157.1L586.8 156.9L588.0 156.8L589.2 156.6L590.3 156.4L591.5 156.3L592.7 156.1L593.9 155.8L595.1 155.6L596.3 155.4L597.4 155.1L598.6 154.9L599.8 154.6L601.0 154.3L602.1 154.0L603.3 153.7L604.4 153.4L605.6 153.0L606.7 152.7L607.9 152.3L609.0 152.0L610.1 151.6L611.3 151.2L612.4 150.8L613.5 150.3L614.6 149.9L615.7 149.4L616.8 149.0L617.9 148.5L618.1 149.8L618.2 151.0L618.1 152.2L618.0 153.3L617.7 154.5L617.4 155.6L617.1 156.7L616.7 157.8L616.3 158.9L615.9 160.1L615.5 161.2L615.0 162.4L614.6 163.5L614.1 164.7L613.6 165.8L613.1 166.9L612.6 168.0L612.0 169.1L611.4 170.2L610.8 171.2L610.1 172.3L609.5 173.2L608.8 174.2L608.1 175.2L607.3 176.1L606.5 177.0L605.7 177.9L604.9 178.7L604.1 179.6L603.2 180.4L602.4 181.2L601.5 182.0L600.6 182.7L599.6 183.5L598.7 184.2L597.7 184.9L596.8 185.6L595.8 186.3L594.8 187.0L593.8 187.6L592.8 188.2L591.8 188.9L590.7 189.5L589.7 190.1L588.7 190.6L587.6 191.2L586.6 191.7L585.5 192.3L584.4 192.8L583.3 193.3L582.2 193.8L581.2 194.3L580.1 194.8L579.0 195.3L577.8 195.7L576.7 196.2L575.6 196.6L574.5 197.0L573.3 197.4L572.2 197.8L571.1 198.2L569.9 198.6L568.8 199.0L567.6 199.3L566.5 199.7L565.3 200.1L564.1 200.4L563.0 200.7L561.8 201.0L560.6 201.4L559.4 201.7L558.3 202.0L557.1 202.2L555.9 202.5L554.7 202.8L553.5 203.1L552.3 203.3L551.1 203.6L549.9 203.9L548.8 204.1L547.6 204.3L546.4 204.6L545.2 204.8L544.0 205.0L542.8 205.3L541.6 205.5L540.4 205.7L539.2 205.9L538.0 206.1L536.8 206.3L535.6 206.5L534.4 206.7L533.3 206.9L532.1 207.1L530.9 207.3L529.7 207.4L528.5 207.6L527.3 207.8L526.2 208.0L525.0 208.1L523.8 208.3L522.6 208.5L521.4 208.6L520.3 208.8L519.1 209.0L517.9 209.1L516.7 209.3L515.5 209.4L514.4 209.6L513.2 209.7L512.0 209.9L510.8 210.0L509.6 210.1L508.5 210.3L507.3 210.4L506.1 210.5L504.9 210.7L503.7 210.8L502.6 210.9L501.4 211.0L500.2 211.2L499.0 211.3L497.8 211.4L496.7 211.5L495.5 211.7L494.3 211.8L493.1 211.9L491.9 212.0L490.7 212.1L489.5 212.2L488.3 212.3L487.2 212.5L486.0 212.6L484.8 212.7L483.6 212.8L482.4 212.9L481.2 213.0L480.0 213.1L478.8 213.2L477.6 213.3L476.4 213.4L475.2 213.5L474.0 213.6L472.8 213.7L471.6 213.8L470.3 213.9L469.1 214.1L467.9 214.2L466.7 214.3L465.5 214.4L464.3 214.5L463.0 214.6L461.8 214.7L460.6 214.8L459.3 214.9L458.1 215.0L456.9 215.1L455.7 215.3L454.4 215.4L453.2 215.5L452.0 215.7L450.8 215.8L449.5 216.0L448.3 216.1L447.1 216.3L445.9 216.5L444.7 216.7L443.5 216.9L442.4 217.2L441.2 217.4L440.0 217.7L438.9 218.0L437.7 218.3L436.6 218.6L435.4 219.0L434.3 219.3L433.2 219.7L432.1 220.1L431.1 220.6L430.0 221.0L428.9 221.5L427.9 222.0L426.9 222.6L425.9 223.1L424.9 223.8L423.9 224.4L423.0 225.0L422.0 225.7L421.1 226.5L420.2 227.2L419.3 228.0L418.5 228.8L417.6 229.7L416.8 230.6L416.0 231.5L415.2 232.4L414.4 233.3L413.7 234.3L412.9 235.3L412.2 236.3L411.5 237.3L410.8 238.3L410.1 239.3L409.4 240.4L408.7 241.4L408.1 242.5L407.5 243.6L406.8 244.6L406.2 245.7L405.6 246.8L405.0 247.9L404.5 248.9L403.9 250.0L403.4 251.1L402.8 252.2L402.3 253.2L401.8 254.3L401.2 255.4L400.7 256.5L400.2 257.6L399.7 258.6L399.2 259.7L398.8 260.8L398.3 261.9L397.8 263.0L397.4 264.1L396.9 265.1L396.4 266.2L396.0 267.3L395.5 268.4L395.1 269.5L394.6 270.6L394.2 271.7L393.8 272.8L393.3 273.9L392.9 275.0L392.5 276.1L392.0 277.2L391.6 278.3L391.1 279.4L390.7 280.5L390.3 281.6L389.8 282.7L389.4 283.8L388.9 284.9L388.5 286.0L388.1 287.1L387.6 288.2L387.2 289.3L386.8 290.4L386.3 291.6L385.9 292.7L385.5 293.8L385.1 294.9L384.6 296.1L384.2 297.2L383.8 298.3L383.4 299.5L383.0 300.6L382.6 301.8L382.2 303.0L381.9 304.1L381.5 305.3L381.1 306.5L380.8 307.7L380.4 308.8L380.0 310.0L379.7 311.2L379.3 312.4L378.9 313.5L378.6 314.7L378.2 315.9L377.8 317.1L377.4 318.2L377.0 319.4L376.6 320.5L376.1 321.6L375.7 322.8L375.2 323.9L374.8 325.0L374.3 326.1L373.8 327.2L373.2 328.2L372.7 329.3L372.1 330.3L371.5 331.3L370.9 332.3L370.2 333.3L369.6 334.3L368.8 335.2L368.1 336.1L367.4 337.0L366.6 337.9L365.7 338.8L364.9 339.6L364.0 340.4L363.0 341.2L362.1 341.9L361.1 342.6L360.0 343.2L359.0 343.7L357.9 344.1L356.8 344.4L355.7 344.6L354.6 344.7L353.4 344.6L352.2 344.4L351.1 344.1L349.9 343.6L348.7 343.1L347.6 342.6L346.4 342.0L345.2 341.4L344.1 340.8L343.0 340.2L341.8 339.7L340.7 339.2L339.6 338.7L338.5 338.1L337.5 337.6L336.4 337.1L335.4 336.6L334.3 336.0L333.3 335.5L332.3 334.9L331.3 334.3L330.3 333.6L329.3 333.0L328.3 332.3L327.3 331.7L326.3 331.0L325.4 330.3L324.4 329.6L323.4 328.9L322.4 328.2L321.5 327.5L320.5 326.8L319.5 326.1L318.5 325.4L317.5 324.8L316.5 324.1L315.5 323.4L314.5 322.8L313.5 322.1L312.5 321.5L311.4 320.9L310.4 320.2L309.4 319.6L308.3 319.0L307.3 318.4L306.2 317.8L305.2 317.3L304.1 316.7L303.1 316.1L302.0 315.6L300.9 315.0L299.8 314.5L298.8 314.0L297.7 313.4L296.6 312.9L295.5 312.4L294.4 312.0L293.3 311.5L292.2 311.0L291.1 310.5L290.0 310.1L288.9 309.6L287.8 309.2L286.7 308.7L285.6 308.3L284.5 307.9L283.4 307.5L282.2 307.1L281.1 306.7L280.0 306.3L278.9 305.9L277.7 305.5L276.6 305.1L275.5 304.7L274.3 304.4L273.2 304.0L272.0 303.6L270.9 303.3L269.7 302.9L268.6 302.6L267.4 302.2L266.3 301.9L265.1 301.5L264.0 301.2L262.8 300.9L261.7 300.5L260.5 300.2L259.3 299.9L258.2 299.6L257.0 299.2L255.9 298.9L254.7 298.6L253.5 298.3L252.4 298.0L251.2 297.6L250.0 297.3L248.8 297.0L247.7 296.7L246.5 296.4L245.3 296.1L244.2 295.8L243.0 295.5L241.8 295.1L240.6 294.8L239.5 294.5L238.3 294.2L237.1 293.9L235.9 293.6L234.7 293.3L233.6 293.1L232.4 292.8L231.2 292.5L230.0 292.3L228.9 292.0L227.7 291.8L226.5 291.6L225.3 291.4L224.1 291.2L223.0 291.0L221.8 290.8L220.6 290.6L219.4 290.5L218.2 290.4L217.1 290.3L215.9 290.2L214.7 290.1L213.5 290.0L212.3 290.0L211.2 290.0L210.0 290.0L208.8 290.0L207.6 290.0L206.5 290.1L205.3 290.2L204.1 290.3L202.9 290.5L201.7 290.6L200.6 290.8L199.4 291.1L198.2 291.3L197.0 291.6L195.9 291.9L194.7 292.3L193.5 292.6L192.3 293.0L191.2 293.5L190.0 293.9L188.9 294.4L187.8 295.0L186.7 295.5L185.6 296.1L184.5 296.7L183.5 297.4L182.5 298.1L181.5 298.8L180.5 299.5L179.6 300.3L178.7 301.1L177.9 301.9L177.0 302.8L176.2 303.7L175.5 304.6L174.7 305.5L174.0 306.5L173.3 307.4L172.6 308.4L171.9 309.4L171.2 310.4L170.6 311.4L169.9 312.4L169.3 313.4L168.7 314.4L168.0 315.5L167.4 316.5L166.8 317.5L166.2 318.5L165.6 319.6L165.1 320.6L164.5 321.7L163.9 322.7L163.4 323.8L162.8 324.9L162.3 325.9L161.7 327.0L161.2 328.1L160.6 329.1L160.1 330.2L159.6 331.3L159.1 332.4L158.6 333.5L158.0 334.6L157.5 335.6L157.0 336.7L156.5 337.8L156.0 338.9L155.5 340.0L155.0 341.1L154.5 342.2L154.0 343.3L153.5 344.4L153.0 345.5L152.5 346.6L152.1 347.7L151.6 348.8L151.1 349.9L150.6 351.0L150.1 352.1L149.6 353.2L149.1 354.3L148.6 355.4L148.1 356.5L147.5 357.6L147.0 358.7L146.5 359.7L146.0 360.8L145.5 361.9L144.9 363.0L144.4 364.1L143.9 365.1L143.3 366.2L142.8 367.3L142.2 368.3L141.7 369.4L141.1 370.5L140.5 371.5L139.9 372.6L139.4 373.6L138.8 374.7L138.2 375.7L137.5 376.7L136.9 377.8L136.3 378.8L135.6 379.8L135.0 380.8"/>
<path stroke="#0000ff" d="M135.0 324.2L135.1 322.9L135.3 321.5L135.5 320.3L135.7 319.0L136.0 317.8L136.3 316.6L136.7 315.4L137.0 314.3L137.4 313.1L137.8 312.0L138.3 310.9L138.7 309.9L139.2 308.8L139.7 307.7L140.3 306.7L140.8 305.7L141.4 304.7L142.0 303.7L142.6 302.7L143.2 301.7L143.8 300.7L144.4 299.7L145.1 298.7L145.7 297.7L146.4 296.8L147.0 295.8L147.7 294.8L148.3 293.8L149.0 292.8L149.7 291.7L150.3 290.7L151.0 289.7L151.7 288.7L152.3 287.6L153.0 286.6L153.7 285.5L154.4 284.5L155.1 283.4L155.8 282.4L156.5 281.4L157.2 280.3L157.9 279.3L158.6 278.3L159.4 277.3L160.1 276.3L160.8 275.3L161.6 274.3L162.4 273.3L163.1 272.4L163.9 271.4L164.7 270.5L165.5 269.6L166.4 268.7L167.2 267.9L168.1 267.0L168.9 266.2L169.8 265.4L170.7 264.7L171.6 263.9L172.6 263.2L173.5 262.5L174.5 261.9L175.4 261.2L176.4 260.6L177.4 260.0L178.4 259.4L179.4 258.9L180.5 258.3L181.5 257.8L182.6 257.3L183.6 256.8L184.7 256.4L185.8 255.9L186.9 255.5L188.0 255.1L189.1 254.7L190.2 254.3L191.4 254.0L192.5 253.6L193.7 253.3L194.8 253.0L196.0 252.7L197.1 252.4L198.3 252.1L199.5 251.8L200.7 251.6L201.9 251.3L203.0 251.1L204.2 250.9L205.4 250.6L206.6 250.4L207.8 250.2L209.1 250.0L210.3 249.9L211.5 249.7L212.7 249.5L213.9 249.3L215.1 249.2L216.3 249.0L217.5 248.9L218.8 248.7L220.0 248.6L221.2 248.5L222.4 248.3L223.6 248.2L224.8 248.0L226.0 247.9L227.2 247.8L228.4 247.7L229.6 247.5L230.8 247.4L232.0 247.3L233.2 247.2L234.5 247.1L235.7 246.9L236.9 246.8L238.0 246.7L239.2 246.6L240.4 246.5L241.6 246.4L242.8 246.3L244.0 246.1L245.2 246.0L246.4 245.9L247.6 245.8L248.8 245.7L250.0 245.6L251.2 245.5L252.4 245.4L253.6 245.3L254.8 245.1L256.0 245.0L257.2 244.9L258.3 244.8L259.5 244.7L260.7 244.6L261.9 244.4L263.1 244.3L264.3 244.2L265.5 244.1L266.7 243.9L267.9 243.8L269.1 243.7L270.2 243.5L271.4 243.4L272.6 243.3L273.8 243.1L275.0 243.0L276.2 242.8L277.4 242.7L278.6 242.5L279.8 242.4L281.0 242.2L282.2 242.1L283.3 241.9L284.5 241.7L285.7 241.6L286.9 241.4L288.1 241.3L289.3 241.1L290.5 240.9L291.7 240.8L292.9 240.6L294.1 240.4L295.3 240.2L296.5 240.1L297.7 239.9L298.9 239.7L300.1 239.6L301.3 239.4L302.5 239.2L303.7 239.0L304.9 238.9L306.0 238.7L307.2 238.5L308.4 238.4L309.6 238.2L310.9 238.0L312.1 237.8L313.3 237.7L314.5 237.5L315.7 237.3L316.9 237.2L318.1 237.0L319.3 236.8L320.5 236.7L321.7 236.5L322.9 236.3L324.1 236.2L325.3 236.0L326.5 235.8L327.7 235.6L328.9 235.4L330.1 235.2L331.3 234.9L332.5 234.7L333.6 234.4L334.8 234.1L336.0 233.8L337.1 233.5L338.2 233.1L339.4 232.7L340.5 232.3L341.6 231.9L342.7 231.5L343.8 231.0L344.9 230.5L346.0 230.0L347.1 229.5L348.1 228.9L349.2 228.3L350.2 227.7L351.2 227.1L352.3 226.5L353.3 225.9L354.3 225.2L355.3 224.6L356.3 223.9L357.2 223.2L358.2 222.5L359.1 221.7L360.1 221.0L361.0 220.2L361.9 219.5L362.8 218.7L363.7 217.9L364.6 217.1L365.5 216.3L366.4 215.4L367.2 214.6L368.1 213.8L368.9 212.9L369.7 212.0L370.5 211.2L371.3 210.3L372.1 209.4L372.9 208.5L373.7 207.6L374.5 206.7L375.2 205.7L376.0 204.8L376.7 203.9L377.4 202.9L378.2 202.0L378.9 201.0L379.6 200.0L380.3 199.0L381.0 198.1L381.7 197.1L382.3 196.1L383.0 195.1L383.7 194.1L384.3 193.0L385.0 192.0L385.6 191.0L386.3 190.0L386.9 188.9L387.5 187.9L388.1 186.8L388.8 185.8L389.4 184.8L390.0 183.7L390.6 182.6L391.2 181.6L391.8 180.5L392.3 179.4L392.9 178.4L393.5 177.3L394.1 176.2L394.7 175.2L395.2 174.1L395.8 173.0L396.4 171.9L396.9 170.8L397.5 169.8L398.0 168.7L398.6 167.6L399.1 166.5L399.7 165.4L400.3 164.3L400.8 163.3L401.4 162.2L401.9 161.1L402.5 160.0L403.1 159.0L403.6 157.9L404.2 156.8L404.8 155.8L405.3 154.7L405.9 153.6L406.5 152.6L407.1 151.6L407.7 150.5L408.3 149.5L409.0 148.4L409.6 147.4L410.2 146.4L410.9 145.4L411.5 144.4L412.2 143.4L412.9 142.4L413.5 141.4L414.2 140.5L414.9 139.5L415.7 138.5L416.4 137.6L417.1 136.7L417.9 135.7L418.7 134.8L419.5 133.9L420.3 133.0L421.1 132.1L421.9 131.3L422.8 130.4L423.7 129.6L424.6 128.7L425.5 127.9L426.4 127.1L427.3 126.3L428.3 125.6L429.3 124.9L430.3 124.2L431.3 123.6L432.3 123.0L433.3 122.4L434.4 121.9L435.5 121.4L436.6 121.0L437.7 120.6L438.8 120.2L439.9 120.0L441.1 119.7L442.2 119.5L443.4 119.4L444.5 119.3L445.7 119.3L446.9 119.2L448.1 119.3L449.2 119.4L450.4 119.5L451.6 119.7L452.7 119.9L453.9 120.2L455.0 120.4L456.2 120.8L457.3 121.2L458.4 121.6L459.6 122.0L460.7 122.5L461.8 122.9L462.9 123.5L464.0 124.0L465.1 124.5L466.2 125.1L467.3 125.7L468.4 126.3L469.5 126.9L470.6 127.5L471.7 128.1L472.7 128.7L473.8 129.3L474.9 129.9L476.0 130.5L477.1 131.0L478.2 131.6L479.3 132.2L480.4 132.7L481.5 133.2L482.6 133.7L483.7 134.2L484.8 134.7L486.0 135.1L487.1 135.6L488.2 136.0L489.3 136.4L490.5 136.8L491.6 137.2L492.7 137.6L493.9 137.9L495.0 138.3L496.1 138.6L497.3 139.0L498.4 139.3L499.6 139.6L500.7 139.9L501.9 140.2L503.0 140.5L504.2 140.8L505.3 141.1L506.5 141.4L507.6 141.6L508.8 141.9L510.0 142.2L511.1 142.4L512.3 142.7L513.5 143.0L514.6 143.2L515.8 143.5L517.0 143.7L518.1 144.0L519.3 144.3L520.5 144.5L521.7 144.8L522.8 145.1L524.0 145.4L525.2 145.6L526.4 145.9L527.6 146.2L528.7 146.5L529.9 146.7L531.1 147.0L532.3 147.3L533.5 147.6L534.6 147.8L535.8 148.1L537.0 148.3L538.2 148.6L539.4 148.8L540.6 149.1L541.8 149.3L543.0 149.5L544.1 149.8L545.3 150.0L546.5 150.2L547.7 150.4L548.9 150.6L550.1 150.8L551.3 150.9L552.5 151.1L553.7 151.2L554.9 151.4L556.1 151.5L557.3 151.6L558.5 151.7L559.7 151.8L560.9 151.9L562.1 151.9L563.3 152.0L564.5 152.0L565.7 152.0L566.9 152.0L568.1 152.0L569.3 152.0L570.5 152.0L571.7 152.0L572.9 151.9L574.1 151.9L575.3 151.8L576.5 151.7L577.7 151.6L578.9 151.5L580.1 151.4L581.3 151.3L582.4 151.2L583.6 151.0L584.8 150.9L586.0 150.7L587.2 150.5L588.4 150.3L589.6 150.1L590.8 149.9L592.0 149.7L593.1 149.5L594.3 149.2L595.5 149.0L596.7 148.7L597.9 148.5L599.0 148.2L600.2 147.9L601.4 147.6L602.5 147.3L603.7 147.0L604.9 146.7L606.0 146.4L607.2 146.0L608.3 145.7L609.5 145.3L610.7 145.0L611.8 144.6L612.9 144.2L614.1 143.8L615.2 143.4L616.4 143.0L617.5 142.6L617.5 143.8L617.5 145.0L617.5 146.1L617.4 147.3L617.3 148.5L617.2 149.7L617.0 150.9L616.8 152.1L616.6 153.2L616.3 154.4L616.0 155.6L615.7 156.8L615.4 157.9L615.0 159.1L614.6 160.2L614.2 161.4L613.8 162.5L613.3 163.6L612.8 164.8L612.3 165.9L611.7 167.0L611.2 168.0L610.6 169.1L610.0 170.2L609.3 171.2L608.7 172.2L608.0 173.2L607.3 174.2L606.6 175.2L605.8 176.2L605.1 177.1L604.3 178.0L603.5 178.9L602.7 179.8L601.8 180.7L601.0 181.5L600.1 182.3L599.2 183.1L598.3 183.9L597.4 184.6L596.5 185.3L595.5 186.0L594.6 186.7L593.6 187.3L592.6 188.0L591.6 188.6L590.6 189.2L589.6 189.8L588.5 190.3L587.5 190.9L586.4 191.4L585.4 191.9L584.3 192.4L583.2 192.9L582.1 193.4L581.0 193.8L579.9 194.3L578.7 194.7L577.6 195.1L576.5 195.5L575.3 195.9L574.2 196.3L573.0 196.7L571.8 197.0L570.7 197.4L569.5 197.7L568.3 198.1L567.2 198.4L566.0 198.7L564.8 199.1L563.6 199.4L562.4 199.7L561.2 200.0L560.0 200.3L558.9 200.6L557.7 200.9L556.5 201.2L555.3 201.5L554.1 201.7L552.9 202.0L551.7 202.3L550.6 202.6L549.4 202.9L548.2 203.2L547.0 203.4L545.9 203.7L544.7 204.0L543.5 204.3L542.3 204.5L541.2 204.8L540.0 205.1L538.8 205.3L537.6 205.6L536.5 205.8L535.3 206.1L534.1 206.3L533.0 206.6L531.8 206.8L530.6 207.1L529.4 207.3L528.3 207.6L527.1 207.8L525.9 208.0L524.8 208.3L523.6 208.5L522.4 208.7L521.3 208.9L520.1 209.1L518.9 209.4L517.7 209.6L516.6 209.8L515.4 210.0L514.2 210.2L513.0 210.4L511.9 210.5L510.7 210.7L509.5 210.9L508.3 211.1L507.2 211.3L506.0 211.4L504.8 211.6L503.6 211.8L502.4 211.9L501.2 212.1L500.0 212.2L498.9 212.4L497.7 212.5L496.5 212.6L495.3 212.8L494.1 212.9L492.9 213.0L491.7 213.1L490.5 213.2L489.3 213.3L488.1 213.4L486.9 213.5L485.6 213.6L484.4 213.7L483.2 213.8L482.0 213.9L480.8 214.0L479.6 214.0L478.4 214.1L477.1 214.2L475.9 214.3L474.7 214.3L473.5 214.4L472.3 214.5L471.1 214.6L469.8 214.7L468.6 214.8L467.4 214.9L466.2 215.0L465.0 215.1L463.8 215.2L462.6 215.3L461.4 215.4L460.2 215.5L459.0 215.7L457.8 215.8L456.6 215.9L455.4 216.1L454.2 216.3L453.0 216.4L451.8 216.6L450.6 216.8L449.4 217.0L448.2 217.2L447.1 217.5L445.9 217.7L444.7 218.0L443.6 218.2L442.4 218.5L441.3 218.8L440.1 219.1L439.0 219.4L437.8 219.8L436.7 220.2L435.6 220.5L434.4 220.9L433.3 221.3L432.2 221.8L431.1 222.2L430.0 222.7L428.9 223.2L427.8 223.7L426.7 224.2L425.7 224.7L424.6 225.3L423.6 225.9L422.5 226.5L421.5 227.1L420.5 227.7L419.5 228.4L418.5 229.0L417.5 229.7L416.5 230.4L415.5 231.1L414.6 231.9L413.6 232.6L412.7 233.4L411.8 234.2L410.9 235.0L410.0 235.8L409.2 236.6L408.3 237.5L407.5 238.3L406.7 239.2L405.9 240.1L405.1 241.0L404.3 241.9L403.6 242.9L402.9 243.8L402.2 244.8L401.5 245.8L400.8 246.8L400.1 247.8L399.4 248.8L398.8 249.8L398.2 250.8L397.5 251.9L396.9 252.9L396.3 254.0L395.7 255.1L395.2 256.1L394.6 257.2L394.0 258.3L393.5 259.4L392.9 260.5L392.4 261.5L391.9 262.6L391.3 263.7L390.8 264.8L390.3 265.9L389.8 267.0L389.3 268.1L388.8 269.2L388.3 270.3L387.8 271.4L387.3 272.5L386.8 273.6L386.3 274.7L385.8 275.8L385.3 276.9L384.8 277.9L384.3 279.0L383.8 280.1L383.4 281.1L382.9 282.2L382.4 283.3L381.9 284.3L381.4 285.4L380.9 286.4L380.4 287.5L379.9 288.5L379.4 289.6L378.8 290.7L378.3 291.7L377.8 292.8L377.3 293.8L376.8 294.9L376.2 296.0L375.7 297.0L375.1 298.1L374.6 299.2L374.0 300.3L373.5 301.3L372.9 302.4L372.3 303.5L371.8 304.6L371.2 305.7L370.6 306.8L370.0 307.9L369.4 309.1L368.7 310.2L368.1 311.3L367.5 312.3L366.8 313.4L366.1 314.5L365.4 315.5L364.7 316.6L364.0 317.6L363.2 318.6L362.5 319.6L361.7 320.5L360.9 321.4L360.0 322.3L359.2 323.1L358.3 323.9L357.4 324.7L356.4 325.4L355.5 326.1L354.5 326.7L353.5 327.3L352.4 327.9L351.4 328.3L350.3 328.7L349.3 329.1L348.2 329.4L347.1 329.6L346.0 329.8L344.9 330.0L343.8 330.0L342.7 330.1L341.5 330.1L340.4 330.0L339.3 329.9L338.1 329.7L337.0 329.6L335.8 329.4L334.7 329.1L333.5 328.8L332.4 328.5L331.2 328.2L330.0 327.8L328.9 327.4L327.7 327.0L326.5 326.6L325.4 326.2L324.2 325.7L323.1 325.3L321.9 324.8L320.8 324.3L319.6 323.9L318.5 323.4L317.3 322.9L316.2 322.4L315.0 321.9L313.9 321.4L312.8 320.9L311.7 320.4L310.5 319.9L309.4 319.4L308.3 318.9L307.2 318.4L306.1 317.9L305.0 317.4L303.9 316.8L302.8 316.3L301.7 315.8L300.6 315.3L299.5 314.8L298.4 314.3L297.3 313.7L296.2 313.2L295.1 312.7L294.0 312.2L292.9 311.7L291.9 311.1L290.8 310.6L289.7 310.1L288.6 309.6L287.5 309.0L286.5 308.5L285.4 308.0L284.3 307.5L283.2 307.0L282.1 306.5L281.1 305.9L280.0 305.4L278.9 304.9L277.8 304.4L276.8 303.9L275.7 303.4L274.6 302.9L273.5 302.4L272.4 301.9L271.4 301.4L270.3 300.9L269.2 300.4L268.1 300.0L267.0 299.5L265.9 299.0L264.9 298.5L263.8 298.1L262.7 297.6L261.6 297.1L260.5 296.7L259.4 296.2L258.3 295.8L257.2 295.3L256.1 294.9L255.0 294.4L253.9 294.0L252.8 293.6L251.6 293.2L250.5 292.8L249.4 292.4L248.3 292.0L247.2 291.6L246.0 291.2L244.9 290.8L243.8 290.4L242.6 290.0L241.5 289.7L240.3 289.3L239.2 289.0L238.0 288.6L236.9 288.3L235.7 288.0L234.5 287.7L233.4 287.3L232.2 287.0L231.0 286.7L229.8 286.5L228.6 286.2L227.4 285.9L226.2 285.6L225.0 285.4L223.8 285.2L222.6 284.9L221.4 284.7L220.2 284.5L219.0 284.3L217.8 284.1L216.5 284.0L215.3 283.8L214.1 283.7L212.9 283.6L211.7 283.5L210.4 283.4L209.2 283.4L208.0 283.3L206.8 283.3L205.6 283.3L204.4 283.4L203.2 283.4L202.0 283.5L200.8 283.6L199.7 283.8L198.5 283.9L197.3 284.1L196.2 284.4L195.0 284.6L193.9 284.9L192.8 285.2L191.6 285.6L190.5 285.9L189.4 286.3L188.3 286.8L187.3 287.3L186.2 287.8L185.2 288.3L184.1 288.9L183.1 289.5L182.1 290.2L181.1 290.8L180.1 291.5L179.1 292.2L178.2 293.0L177.2 293.7L176.3 294.5L175.4 295.3L174.5 296.2L173.6 297.0L172.7 297.9L171.9 298.8L171.0 299.7L170.2 300.6L169.4 301.6L168.6 302.5L167.9 303.5L167.1 304.5L166.4 305.4L165.7 306.4L165.0 307.4L164.3 308.5L163.6 309.5L163.0 310.5L162.4 311.5L161.8 312.6L161.2 313.6L160.6 314.7L160.1 315.7L159.5 316.8L159.0 317.9L158.5 318.9L157.9 320.0L157.4 321.1L156.9 322.2L156.5 323.3L156.0 324.3L155.5 325.4L155.0 326.5L154.6 327.6L154.1 328.7L153.6 329.8L153.2 330.9L152.7 332.0L152.3 333.1L151.8 334.2L151.3 335.3L150.9 336.4L150.4 337.5L149.9 338.6L149.4 339.7L149.0 340.8L148.5 341.9L148.0 343.0L147.5 344.1L146.9 345.2L146.4 346.3L145.9 347.4L145.4 348.5L144.9 349.6L144.3 350.7L143.8 351.7L143.2 352.8L142.7 353.9L142.2 355.0L141.6 356.1L141.1 357.2L140.5 358.2L140.0 359.3L139.4 360.4L138.8 361.4L138.3 362.5L137.7 363.6L137.2 364.7L136.6 365.7L136.1 366.8L135.5 367.8L135.0 368.9"/>
</g>
<line x1="410.4" y1="67.4" x2="381.8" y2="50.0" stroke="#000000" stroke-width="4.0"/><polygon fill="#000000" points="373.3,44.8 385.4,46.1 380.0,54.9"/>
<text transform="translate(355.0 54.2) scale(0.940 1)" font-size="32" font-weight="bold" fill="#000000">a</text>
<line x1="391.4" y1="99.4" x2="364.4" y2="84.1" stroke="#ff0000" stroke-width="4.0"/><polygon fill="#ff0000" points="355.7,79.2 367.8,80.1 362.7,89.1"/>
<text transform="translate(338.8 87.7) scale(0.940 1)" font-size="32" font-weight="bold" fill="#ff0000">b</text>
<line x1="393.0" y1="138.8" x2="364.5" y2="122.3" stroke="#00ff00" stroke-width="4.0"/><polygon fill="#00ff00" points="355.8,117.3 367.9,118.3 362.7,127.3"/>
<text transform="translate(340.0 123.7) scale(0.940 1)" font-size="32" font-weight="bold" fill="#00ff00">c</text>
<line x1="393.6" y1="172.4" x2="366.3" y2="157.9" stroke="#0000ff" stroke-width="4.0"/><polygon fill="#0000ff" points="357.5,153.2 369.6,153.8 364.8,162.9"/>
<text transform="translate(340.0 165.5) scale(0.940 1)" font-size="32" font-weight="bold" fill="#0000ff">d</text>
<g stroke="#000" stroke-width="4.0" fill="none" stroke-linecap="butt">
<rect x="95.00" y="8.90" width="562.80" height="418.20"/>
<line x1="90.80" y1="427.10" x2="95.00" y2="427.10"/>
<line x1="87.00" y1="403.87" x2="95.00" y2="403.87"/>
<line x1="90.80" y1="380.63" x2="95.00" y2="380.63"/>
<line x1="87.00" y1="357.40" x2="95.00" y2="357.40"/>
<line x1="90.80" y1="334.17" x2="95.00" y2="334.17"/>
<line x1="87.00" y1="310.93" x2="95.00" y2="310.93"/>
<line x1="90.80" y1="287.70" x2="95.00" y2="287.70"/>
<line x1="87.00" y1="264.47" x2="95.00" y2="264.47"/>
<line x1="90.80" y1="241.23" x2="95.00" y2="241.23"/>
<line x1="87.00" y1="218.00" x2="95.00" y2="218.00"/>
<line x1="90.80" y1="194.77" x2="95.00" y2="194.77"/>
<line x1="87.00" y1="171.53" x2="95.00" y2="171.53"/>
<line x1="90.80" y1="148.30" x2="95.00" y2="148.30"/>
<line x1="87.00" y1="125.07" x2="95.00" y2="125.07"/>
<line x1="90.80" y1="101.83" x2="95.00" y2="101.83"/>
<line x1="87.00" y1="78.60" x2="95.00" y2="78.60"/>
<line x1="90.80" y1="55.37" x2="95.00" y2="55.37"/>
<line x1="87.00" y1="32.13" x2="95.00" y2="32.13"/>
<line x1="90.80" y1="8.90" x2="95.00" y2="8.90"/>
<line x1="95.00" y1="427.10" x2="95.00" y2="431.30"/>
<line x1="135.20" y1="427.10" x2="135.20" y2="435.60"/>
<line x1="175.40" y1="427.10" x2="175.40" y2="431.30"/>
<line x1="215.60" y1="427.10" x2="215.60" y2="435.60"/>
<line x1="255.80" y1="427.10" x2="255.80" y2="431.30"/>
<line x1="296.00" y1="427.10" x2="296.00" y2="435.60"/>
<line x1="336.20" y1="427.10" x2="336.20" y2="431.30"/>
<line x1="376.40" y1="427.10" x2="376.40" y2="435.60"/>
<line x1="416.60" y1="427.10" x2="416.60" y2="431.30"/>
<line x1="456.80" y1="427.10" x2="456.80" y2="435.60"/>
<line x1="497.00" y1="427.10" x2="497.00" y2="431.30"/>
<line x1="537.20" y1="427.10" x2="537.20" y2="435.60"/>
<line x1="577.40" y1="427.10" x2="577.40" y2="431.30"/>
<line x1="617.60" y1="427.10" x2="617.60" y2="435.60"/>
<line x1="657.80" y1="427.10" x2="657.80" y2="431.30"/>
</g>
<g fill="#000">
<text transform="translate(77.90 412.07) rotate(0.03) scale(0.872 1)" text-anchor="end" font-size="29.4">−8</text>
<text transform="translate(77.90 365.60) rotate(0.03) scale(0.872 1)" text-anchor="end" font-size="29.4">−6</text>
<text transform="translate(77.90 319.13) rotate(0.03) scale(0.872 1)" text-anchor="end" font-size="29.4">−4</text>
<text transform="translate(77.90 272.67) rotate(0.03) scale(0.872 1)" text-anchor="end" font-size="29.4">−2</text>
<text transform="translate(77.90 226.20) rotate(0.03) scale(0.872 1)" text-anchor="end" font-size="29.4">0</text>
<text transform="translate(77.90 179.73) rotate(0.03) scale(0.872 1)" text-anchor="end" font-size="29.4">2</text>
<text transform="translate(77.90 133.27) rotate(0.03) scale(0.872 1)" text-anchor="end" font-size="29.4">4</text>
<text transform="translate(77.90 86.80) rotate(0.03) scale(0.872 1)" text-anchor="end" font-size="29.4">6</text>
<text transform="translate(77.90 40.33) rotate(0.03) scale(0.872 1)" text-anchor="end" font-size="29.4">8</text>
<text transform="translate(133.45 460.70) rotate(0.03) scale(0.872 1)" text-anchor="middle" font-size="29.4">−0.4</text>
<text transform="translate(213.85 460.70) rotate(0.03) scale(0.872 1)" text-anchor="middle" font-size="29.4">−0.2</text>
<text transform="translate(296.70 460.70) rotate(0.03) scale(0.872 1)" text-anchor="middle" font-size="29.4">0.0</text>
<text transform="translate(377.10 460.70) rotate(0.03) scale(0.872 1)" text-anchor="middle" font-size="29.4">0.2</text>
<text transform="translate(457.50 460.70) rotate(0.03) scale(0.872 1)" text-anchor="middle" font-size="29.4">0.4</text>
<text transform="translate(537.90 460.70) rotate(0.03) scale(0.872 1)" text-anchor="middle" font-size="29.4">0.6</text>
<text transform="translate(618.30 460.70) rotate(0.03) scale(0.872 1)" text-anchor="middle" font-size="29.4">0.8</text>
</g>
<text transform="translate(378.40 508.20) rotate(0.03) scale(0.925 1)" text-anchor="middle" font-size="35.6" font-weight="bold">Potential (V)</text>
<text transform="translate(32.2 292.8) rotate(-90) scale(0.968 1)" text-anchor="start" font-size="35.6" font-weight="bold">Current</text>
<text transform="translate(32.2 104.9) rotate(-90) scale(0.872 1)" text-anchor="end" font-size="35.6" font-weight="bold">(μA)</text>
</svg></body></html>
